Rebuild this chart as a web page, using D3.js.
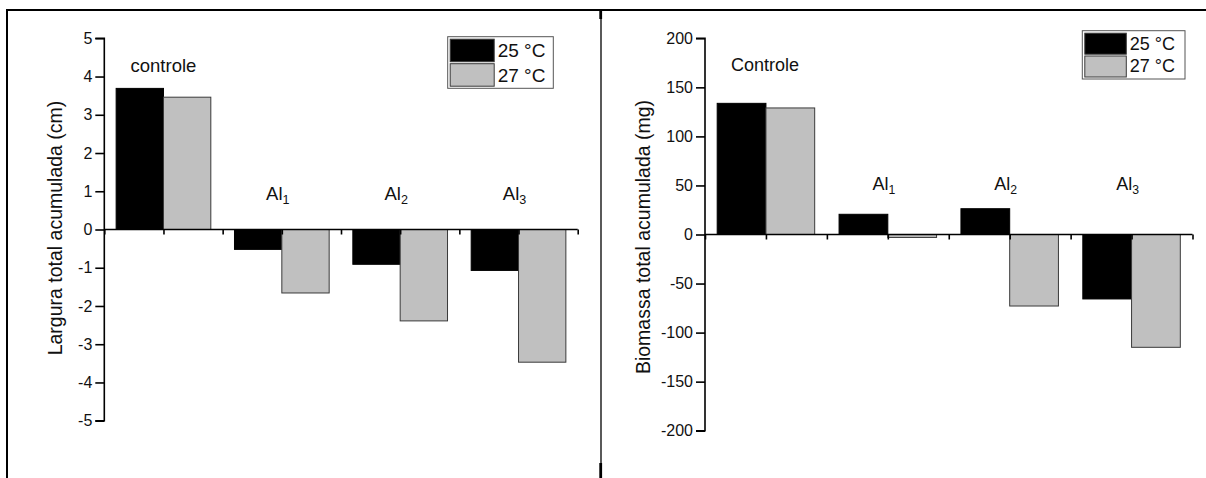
<!DOCTYPE html>
<html>
<head>
<meta charset="utf-8">
<script src="https://cdn.jsdelivr.net/npm/d3@7/dist/d3.min.js"></script>
<style>
  html, body { margin: 0; padding: 0; background: #fff; }
  svg { display: block; font-family: "Liberation Sans", Arial, sans-serif; }
</style>
</head>
<body>
<svg id="chart" width="1206" height="478"></svg>
<script>
// Treatments (group labels: base text + subscript)
const groupBaseLeft = ["controle", "Al", "Al", "Al"];
const groupBaseRight = ["Controle", "Al", "Al", "Al"];
const groupSub = ["", "1", "2", "3"];

// Series
const seriesNames = ["25 °C", "27 °C"];
const seriesColors = ["#000000", "#c0c0c0"];

// Accumulated total width (cm)
const largura25 = [3.69, -0.52, -0.91, -1.07];
const largura27 = [3.46, -1.66, -2.39, -3.47];

// Accumulated total biomass (mg)
const biomassa25 = [133.7, 20.6, 26.3, -65.7];
const biomassa27 = [129, -3, -72.9, -115];

// Axis ticks
const larguraTicks = [-5, -4, -3, -2, -1, 0, 1, 2, 3, 4, 5];
const biomassaTicks = [-200, -150, -100, -50, 0, 50, 100, 150, 200];
const xTickPositions = [0, 1, 2, 3, 4, 5, 6, 7, 8];
const groupPositions = [1, 3, 5, 7];

const svg = d3.select("#chart");

// Table-like frame around the two panels
const frame = svg.append("g");
frame.append("line").attr("x1", 6).attr("x2", 1206).attr("y1", 10).attr("y2", 10)
  .attr("stroke", "#000").attr("stroke-width", 2);
frame.append("line").attr("x1", 7).attr("x2", 7).attr("y1", 9).attr("y2", 478)
  .attr("stroke", "#000").attr("stroke-width", 2);
frame.append("line").attr("x1", 601).attr("x2", 601).attr("y1", 10).attr("y2", 478)
  .attr("stroke", "#000").attr("stroke-width", 1.3);
frame.append("line").attr("x1", 600.7).attr("x2", 600.7).attr("y1", 10).attr("y2", 19)
  .attr("stroke", "#000").attr("stroke-width", 2.8);
frame.append("line").attr("x1", 600.7).attr("x2", 600.7).attr("y1", 463).attr("y2", 478)
  .attr("stroke", "#000").attr("stroke-width", 2.8);

function drawPanel(cfg) {
  const g = svg.append("g");
  const x = d3.scaleLinear().domain([0, 8]).range([cfg.x0, cfg.x1]);
  const y = d3.scaleLinear().domain(cfg.yDomain).range([cfg.yBottom, cfg.yTop]);
  const barW = x(0.8) - x(0);
  const series = [cfg.s25, cfg.s27];

  // bars
  series.forEach((vals, si) => {
    g.append("g").selectAll("rect").data(vals).join("rect")
      .attr("x", (d, i) => si === 0 ? x(groupPositions[i]) - barW : x(groupPositions[i]))
      .attr("width", barW)
      .attr("y", d => y(Math.max(0, d)))
      .attr("height", d => Math.abs(y(d) - y(0)))
      .attr("fill", seriesColors[si])
      .attr("stroke", si === 0 ? "#000" : "#3a3a3a")
      .attr("stroke-width", 1);
  });

  // y axis
  const yAxis = d3.axisLeft(y).tickValues(cfg.yTicks).tickSize(9).tickPadding(3)
    .tickFormat(d3.format("d"));
  const ya = g.append("g").attr("transform", `translate(${cfg.x0},0)`).call(yAxis);
  ya.select(".domain").attr("stroke", "#000").attr("stroke-width", 1.6)
    .attr("d", `M-9,${cfg.yTop}H0V${cfg.yBottom}H-9`);
  ya.selectAll(".tick line").attr("stroke", "#000").attr("stroke-width", 1.6);
  ya.selectAll(".tick text").attr("font-size", 16).attr("fill", "#111")
    .attr("font-family", "Liberation Sans, Arial, sans-serif")
    .text(d => d < 0 ? "-" + Math.abs(d) : d);

  // x axis at zero
  const xAxis = d3.axisBottom(x).tickValues(xTickPositions).tickSize(5).tickFormat("");
  const xa = g.append("g").attr("transform", `translate(0,${y(0)})`).call(xAxis);
  xa.select(".domain").attr("stroke", "#000").attr("stroke-width", 1.6)
    .attr("d", `M${cfg.x0},0H${cfg.x1}`);
  xa.selectAll(".tick line").attr("stroke", "#000").attr("stroke-width", 1.6);

  // y axis title
  g.append("text")
    .attr("transform", `translate(${cfg.titleX},${cfg.titleY}) rotate(-90)`)
    .attr("text-anchor", "middle")
    .attr("dominant-baseline", "central")
    .attr("font-size", cfg.titleSize)
    .attr("fill", "#111")
    .text(cfg.title);

  // group labels
  groupPositions.forEach((p, i) => {
    const t = g.append("text")
      .attr("x", x(p) + (i === 0 ? cfg.ctrlDx : cfg.alDx))
      .attr("y", i === 0 ? cfg.ctrlY : cfg.alY)
      .attr("text-anchor", "middle")
      .attr("font-size", cfg.labelSize)
      .attr("fill", "#111");
    t.append("tspan").text(cfg.bases[i]);
    if (groupSub[i]) {
      t.append("tspan").attr("font-size", cfg.labelSize * 0.68).attr("dy", 4).text(groupSub[i]);
    }
  });

  // legend
  const L = cfg.legend;
  const lg = g.append("g");
  lg.append("rect").attr("x", L.x).attr("y", L.y).attr("width", L.w).attr("height", L.h)
    .attr("fill", "#fff").attr("stroke", "#555").attr("stroke-width", 1);
  seriesNames.forEach((name, si) => {
    lg.append("rect")
      .attr("x", L.x + 2.5).attr("y", L.y + 2.5 + si * L.row)
      .attr("width", L.sw).attr("height", L.sh)
      .attr("fill", seriesColors[si]).attr("stroke", "#3a3a3a").attr("stroke-width", 1);
    lg.append("text")
      .attr("x", L.x + L.sw + 6).attr("y", L.y + L.base + si * L.row)
      .attr("font-size", L.size).attr("fill", "#111")
      .text(name);
  });
}

drawPanel({
  x0: 104.3, x1: 577.7, yTop: 38.3, yBottom: 420.7, yDomain: [-5, 5],
  yTicks: larguraTicks, s25: largura25, s27: largura27,
  title: "Largura total acumulada (cm)", titleX: 55, titleY: 228, titleSize: 19.5,
  bases: groupBaseLeft, labelSize: 18.5, ctrlDx: 0, alDx: -4, ctrlY: 71.7, alY: 199.5,
  legend: { x: 447.7, y: 36.7, w: 105.6, h: 51.6, row: 24.5, sw: 44, sh: 22.5, base: 20.5, size: 19 }
});

drawPanel({
  x0: 705, x1: 1192.5, yTop: 38.3, yBottom: 430.7, yDomain: [-200, 200],
  yTicks: biomassaTicks, s25: biomassa25, s27: biomassa27,
  title: "Biomassa total acumulada (mg)", titleX: 643, titleY: 237, titleSize: 19.5,
  bases: groupBaseRight, labelSize: 18, ctrlDx: -1, alDx: -4, ctrlY: 71, alY: 189.5,
  legend: { x: 1082.3, y: 30.7, w: 102.7, h: 48.3, row: 22.8, sw: 41.5, sh: 21, base: 18.8, size: 18 }
});
</script>
</body>
</html>
